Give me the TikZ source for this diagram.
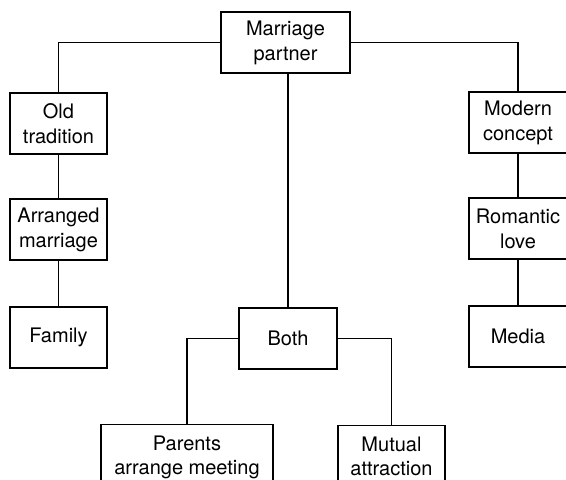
\documentclass[tikz,border=0pt]{standalone}
\usepackage{fontspec}
\setmainfont{TeX Gyre Heros}
\begin{document}
\begin{tikzpicture}[x=1pt,y=-1pt,
  box/.style={draw,line width=1.3pt,minimum height=61pt,inner sep=0pt,align=center,
    font=\fontsize{20}{25}\selectfont},
  lowbox/.style={draw,line width=1.3pt,anchor=north,inner xsep=0pt,inner ysep=11pt,align=center,
    font=\fontsize{20}{24}\selectfont},
  link/.style={line width=1.3pt}]
\useasboundingbox (0,0) rectangle (566,480);
\clip (0,0) rectangle (566,480);
\node[box,minimum width=129pt] (mp) at (285.5,42.5) {Marriage\\partner};
\node[box,minimum width=97pt] (old) at (58.5,123.5) {Old\\tradition};
\node[box,minimum width=97pt] (arr) at (58.5,229.5) {Arranged\\marriage};
\node[box,minimum width=97pt] (fam) at (58.5,337.5) {Family};
\node[box,minimum width=98pt] (mod) at (518,122.5) {Modern\\concept};
\node[box,minimum width=98pt] (rom) at (518,228.5) {Romantic\\love};
\node[box,minimum width=98pt] (med) at (518,336.5) {Media};
\node[box,minimum width=98pt] (both) at (288,338.5) {Both};
\node[lowbox,minimum width=172pt] (par) at (187,424) {Parents\\arrange meeting};
\node[lowbox,minimum width=107pt] (mut) at (391.5,425) {Mutual\\attraction};
\draw[link] (mp.west) -| (old.north);
\draw[link] (mp.east) -| (mod.north);
\draw[link] (old) -- (arr);
\draw[link] (arr) -- (fam);
\draw[link] (mod) -- (rom);
\draw[link] (rom) -- (med);
\draw[link,line width=1.7pt] (both.north |- mp.south) -- (both.north);
\draw[link] (both.west) -| (par.north);
\draw[link] (both.east) -| (mut.north);
\end{tikzpicture}
\end{document}
